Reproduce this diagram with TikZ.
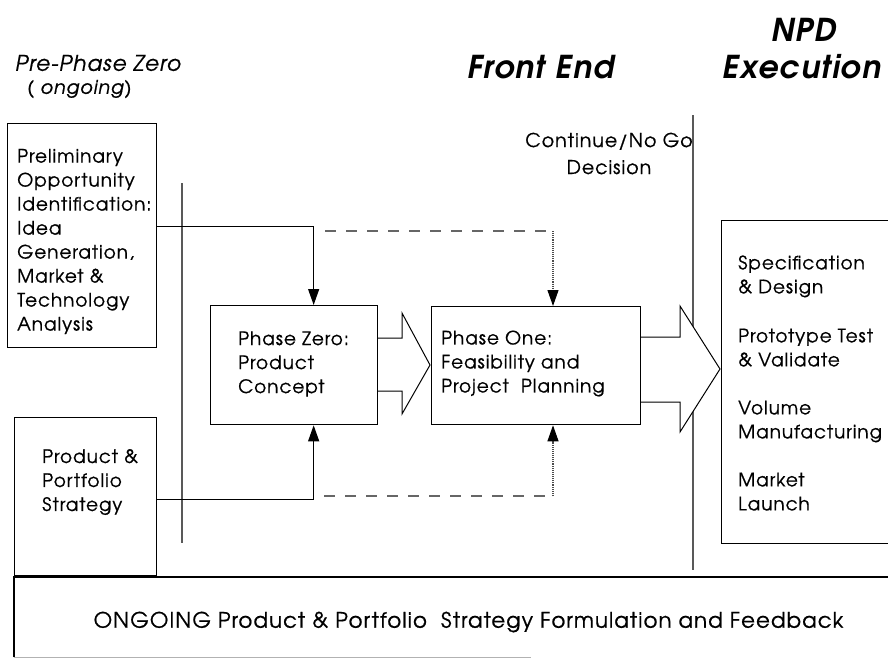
\documentclass[tikz,border=0pt]{standalone}
\usepackage{fontspec}
\setmainfont{TeX Gyre Adventor}[LetterSpace=4]
\newfontfamily\gth{TeX Gyre Adventor}[FakeBold=0.7, LetterSpace=5]
\usetikzlibrary{arrows.meta,calc}
\begin{document}
\begin{tikzpicture}[x=1pt,y=-1pt,
  box/.style={draw, line width=1.3pt, inner sep=0pt, anchor=north west},
  txt/.style={align=left, inner sep=0pt, anchor=west, font=\gth\fontsize{18.5}{24}\selectfont},
  conn/.style={line width=1.2pt, -{Triangle[length=16pt,width=11pt]}},
  dashln/.style={line width=1.1pt, gray!80!black, dash pattern=on 11pt off 10pt},
  dotln/.style={line width=1.1pt, gray!60!black, densely dotted, -{Triangle[length=16pt,width=11pt,color=black]}},
  blk/.style={line width=1pt, fill=white, line join=miter},
  vline/.style={line width=1.1pt, gray!70!black}]
\useasboundingbox (0,0) rectangle (888,659);

% headings
\node[inner sep=0pt, anchor=west, font=\gth\fontsize{21.5}{24}\selectfont\itshape] (hpre) at (15,63) {Pre-Phase Zero};
\node[inner sep=0pt, anchor=west, font=\gth\fontsize{19}{24}\selectfont\itshape] (hong) at (27,89) {( ongoing)};
\node[inner sep=0pt, font=\fontsize{31.5}{34}\selectfont\bfseries\itshape] (hfront) at (541,67) {Front End};
\node[inner sep=0pt, font=\fontsize{31.5}{34}\selectfont\bfseries\itshape] (hnpd) at (804,30) {NPD};
\node[inner sep=0pt, font=\fontsize{31.5}{34}\selectfont\bfseries\itshape] (hexe) at (802,67) {Execution};
\node[inner sep=0pt, align=center, font=\gth\fontsize{19}{27}\selectfont] (cont) at (609,153.5) {Continue/No Go\\Decision};

% vertical divider lines
\coordinate (v1a) at (182,183); \coordinate (v1b) at (182,543);
\coordinate (v2a) at (693,115); \coordinate (v2b) at (693,570);
\draw[vline] (v1a) -- (v1b);
\draw[vline] (v2a) -- (v2b);

% block arrows
\draw[blk] (377,338) -- (402,338) -- (402,313) -- (430,365) -- (402,414) -- (402,391) -- (377,391);
\draw[blk] (640,337) -- (680,337) -- (680,306) -- (720,369) -- (680,432) -- (680,402) -- (640,402);

% boxes
\node[box, minimum width=149pt, minimum height=224pt] (prelim) at (7,123) {};
\node[box, minimum width=142pt, minimum height=158pt] (prod) at (14,417) {};
\node[box, minimum width=167pt, minimum height=119pt] (p0) at (210,305) {};
\node[box, minimum width=209pt, minimum height=118pt] (p1) at (431,306) {};
\node[box, minimum width=175pt, minimum height=323pt] (npd) at (721,220) {};

% box texts
\node[txt] (tprelim) at (17,241.5) {Preliminary\\Opportunity\\Identification:\\Idea\\Generation,\\Market \&\\Technology\\Analysis};
\node[txt] (tprod) at (42,482) {Product \&\\Portfolio\\Strategy};
\node[txt] (tp0) at (238,364) {Phase Zero:\\Product\\Concept};
\node[txt] (tp1) at (441,363.5) {Phase One:\\Feasibility and\\Project\ \ Planning};
\node[txt] (tnpd) at (738,383) {Specification\\\& Design\\[25pt]Prototype Test\\\& Validate\\[24pt]Volume\\Manufacturing\\[24pt]Market\\Launch};

% connectors
\draw[conn] ([yshift=9pt]prelim.east) -| ([xshift=19.5pt]p0.north);
\draw[conn] ([yshift=-3pt]prod.east) -| ([xshift=19.5pt]p0.south);
\coordinate (d1) at (325,231);
\coordinate (d2) at (324,496);
\draw[dashln] (d1) -- ++(228,0) coordinate (d1c);
\draw[dotln] (d1c) -- (d1c |- p1.north);
\draw[dashln] (d2) -- ++(229,0) coordinate (d2c);
\draw[dotln] (d2c) -- (d2c |- p1.south);

% bottom band
\node[inner sep=0pt, minimum width=878pt, minimum height=80pt, anchor=north west] (band) at (14,577) {};
\draw[line width=1.3pt] (band.south west) -- (band.north west) -- (band.north east);
\draw[line width=0.8pt, gray!60] (band.south west) -- ++(517,0);
\node[inner sep=0pt, font=\gth\fontsize{21.3}{24}\selectfont] (tband) at (468.5,622) {ONGOING Product \& Portfolio\ \ Strategy Formulation and Feedback};
\end{tikzpicture}
\end{document}
